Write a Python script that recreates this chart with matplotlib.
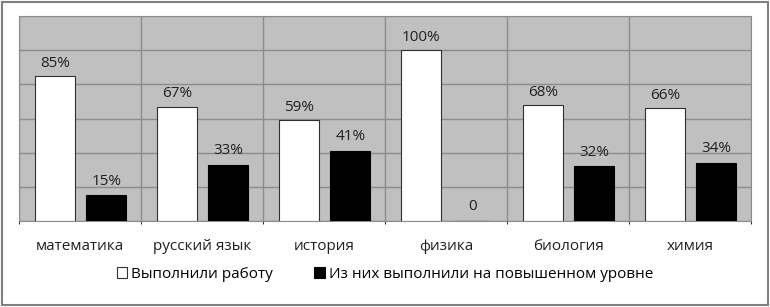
import matplotlib.pyplot as plt
import numpy as np
from matplotlib.patches import Rectangle

subjects = ["математика", "русский язык", "история", "физика", "биология", "химия"]
done = [85, 67, 59, 100, 68, 66]
done_high = [15, 33, 41, 0, 32, 34]
legend_labels = ["Выполнили работу", "Из них выполнили на повышенном уровне"]

plt.rcParams['font.family'] = ['Open Sans', 'DejaVu Sans']

fig = plt.figure(figsize=(7.7, 3.07), dpi=100)
fig.patch.set_facecolor('white')
fig.patches.append(Rectangle((0.003, 0.006), 0.994, 0.988, transform=fig.transFigure,
                             fill=False, edgecolor='#808080', linewidth=1.5))

ax = fig.add_axes([19 / 770, 1 - 221 / 307, 732 / 770, 205 / 307])
ax.set_facecolor('#c0c0c0')

x = np.arange(len(subjects))
w = 0.33
b1 = ax.bar(x - 0.205, done, w, color='white', edgecolor='#303030', linewidth=0.8,
            label=legend_labels[0], zorder=3)
b2 = ax.bar(x + 0.215, done_high, w, color='black', edgecolor='black', linewidth=0.8,
            label=legend_labels[1], zorder=3)

for rect, v in zip(b1, done):
    ax.text(rect.get_x() + rect.get_width() / 2, v + 3, f"{v}%", ha='center', va='bottom',
            fontsize=11, color='#202020')
for rect, v in zip(b2, done_high):
    lab = f"{v}%" if v else "0"
    ax.text(rect.get_x() + rect.get_width() / 2, v + 4, lab, ha='center', va='bottom',
            fontsize=11, color='#202020')

ax.set_xlim(-0.5, len(subjects) - 0.5)
ax.set_ylim(0, 120)
ax.set_yticks(np.arange(0, 121, 20))
ax.set_yticklabels([])
ax.set_xticks(x)
ax.set_xticklabels(subjects, fontsize=11, color='#202020')
ax.set_xticks(np.arange(-0.5, len(subjects), 1), minor=True)
ax.tick_params(axis='both', length=0, pad=13)
ax.grid(axis='y', color='#8c8c8c', linewidth=1, zorder=1)
ax.grid(axis='x', which='minor', color='#8c8c8c', linewidth=1, zorder=1)
for s in ax.spines.values():
    s.set_color('#8c8c8c')

fig.legend(loc='center', bbox_to_anchor=(0.5, 1 - 274 / 307), ncol=2, frameon=False,
           fontsize=11, handlelength=0.7, handleheight=0.7, columnspacing=2.7,
           handletextpad=0.25)

plt.savefig("out.png", dpi=100)
